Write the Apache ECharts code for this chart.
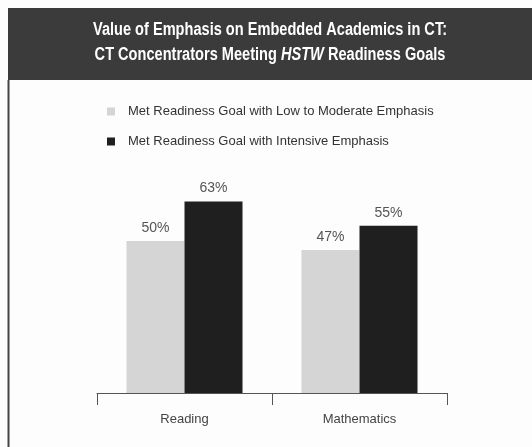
<!DOCTYPE html>
<html>
<head>
<meta charset="utf-8">
<script src="https://cdn.jsdelivr.net/npm/echarts@6/dist/echarts.min.js"></script>
<style>
  html, body { margin: 0; padding: 0; background: #fdfdfd; }
  #chart { width: 532px; height: 447px; }
</style>
</head>
<body>
<div id="chart"></div>
<script>
// Subjects and share of CT concentrators meeting readiness goals (%)
const categories = ['Reading', 'Mathematics'];
const lowModerate = [50, 47];
const intensive = [63, 55];
const seriesNames = [
  'Met Readiness Goal with Low to Moderate Emphasis',
  'Met Readiness Goal with Intensive Emphasis'
];
const titleLines = [
  'Value of Emphasis on Embedded Academics in CT:',
  'CT Concentrators Meeting {i|HSTW} Readiness Goals'
];

const FONT = '"Liberation Sans", Arial, sans-serif';
const TITLE_FONT = 'bold 18px "Liberation Sans", Arial, sans-serif';

// header line drawn with a horizontal squeeze to get a condensed face
function titleLine(text, y) {
  return {
    type: 'text',
    x: 270,
    y: y,
    scaleX: 0.81,
    z: 10,
    style: {
      text: text,
      font: TITLE_FONT,
      fill: '#ffffff',
      align: 'center',
      verticalAlign: 'middle',
      rich: {
        i: { font: 'italic bold 18px "Liberation Sans", Arial, sans-serif', fill: '#ffffff' }
      }
    }
  };
}

const chart = echarts.init(document.getElementById('chart'));
chart.setOption({
  backgroundColor: '#fdfdfd',
  animation: false,
  graphic: [
    // dark header band
    { type: 'rect', left: 8, top: 8, shape: { width: 524, height: 72 },
      style: { fill: '#3b3b3b' }, z: 0 },
    // left frame line
    { type: 'line', shape: { x1: 8.5, y1: 80, x2: 8.5, y2: 447 },
      style: { stroke: '#444', lineWidth: 2 }, z: 0 },
    titleLine(titleLines[0], 30),
    titleLine(titleLines[1], 55)
  ],
  legend: {
    orient: 'vertical',
    left: 102,
    top: 100,
    itemGap: 17,
    itemWidth: 8,
    itemHeight: 8,
    icon: 'rect',
    data: seriesNames,
    textStyle: { color: '#333', fontFamily: FONT, fontSize: 13, padding: [0, 0, 0, 8] }
  },
  grid: { left: 97, right: 85, top: 89, bottom: 54, containLabel: false },
  xAxis: {
    type: 'category',
    data: categories,
    axisLine: { lineStyle: { color: '#555', width: 1 } },
    axisTick: { show: true, length: 12, lineStyle: { color: '#555' } },
    axisLabel: { color: '#444', fontFamily: FONT, fontSize: 13, margin: 20 }
  },
  yAxis: {
    type: 'value',
    min: 0,
    max: 100,
    show: false,
    splitLine: { show: false }
  },
  series: [
    {
      name: seriesNames[0],
      type: 'bar',
      data: lowModerate,
      barGap: '0%',
      barCategoryGap: '33.7%',
      itemStyle: { color: '#d5d5d5' },
      label: { show: true, position: 'top', distance: 6, formatter: '{c}%',
               color: '#555', fontFamily: FONT, fontSize: 14 }
    },
    {
      name: seriesNames[1],
      type: 'bar',
      data: intensive,
      itemStyle: { color: '#1f1f1f' },
      label: { show: true, position: 'top', distance: 6, formatter: '{c}%',
               color: '#555', fontFamily: FONT, fontSize: 14 }
    }
  ]
});
</script>
</body>
</html>
